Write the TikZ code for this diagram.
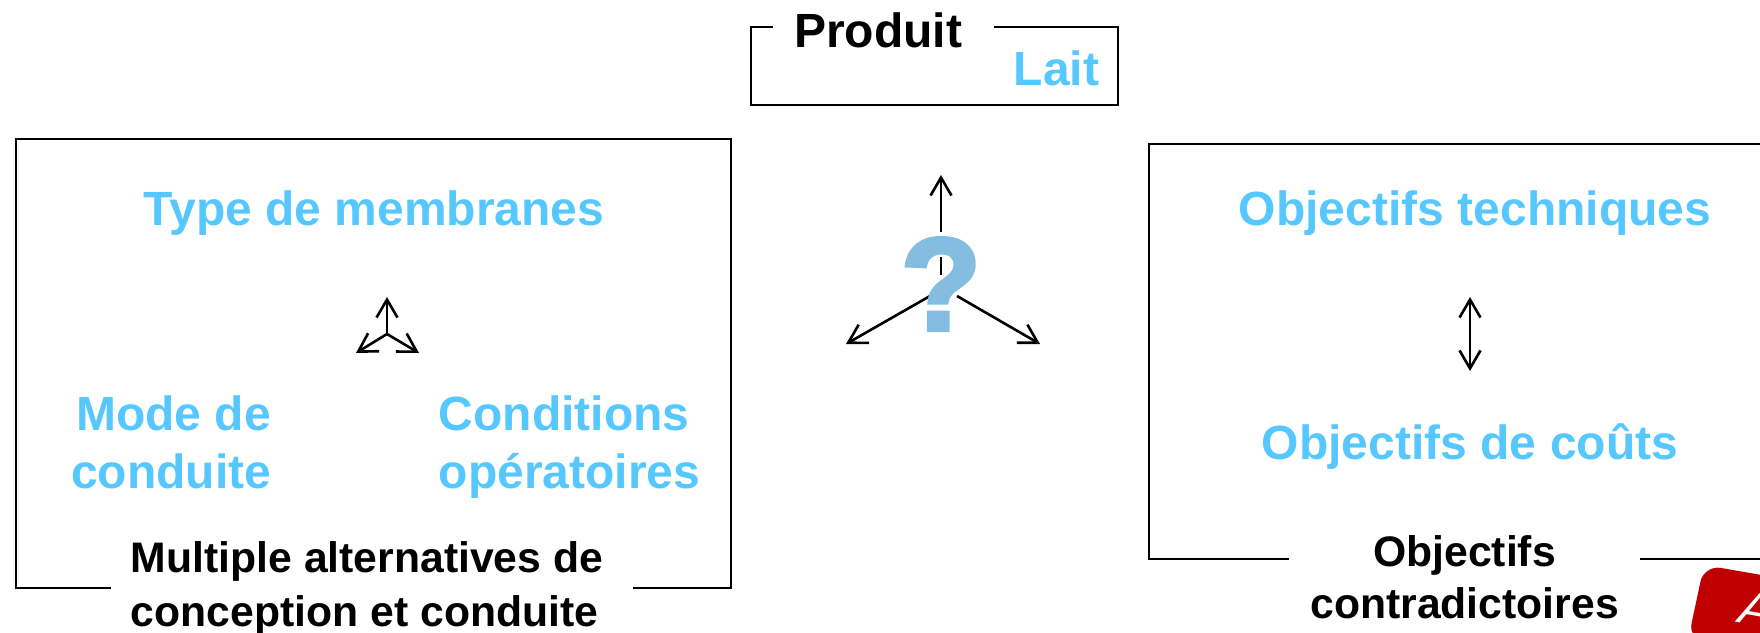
\documentclass[tikz,border=0pt]{standalone}
\usepackage{fontspec}
\setmainfont{Liberation Sans}
\newfontfamily\qfont[BoldFeatures={FakeBold=3}]{Liberation Sans}
\usetikzlibrary{arrows.meta}
\definecolor{skyt}{HTML}{57C7FF}
\definecolor{qblue}{HTML}{85BDE0}
\definecolor{tagred}{HTML}{C00000}
\tikzset{
  frame/.style={draw=black,line width=2pt,line join=miter},
  conn/.style={draw=black,line width=2.6pt},
  barb/.tip={Straight Barb[length=18pt,width=21pt,line width=2.6pt]},
  arrowed/.style={conn,-barb},
  bluetext/.style={text=skyt,font=\fontsize{48}{58}\selectfont\bfseries,align=center,inner sep=0pt},
  blacktext/.style={text=black,font=\fontsize{42.7}{52}\selectfont\bfseries,align=center,inner sep=0pt},
}
\begin{document}
\begin{tikzpicture}[x=1pt,y=-1pt]
\useasboundingbox (0,0) rectangle (1760,632);
\clip (0,0) rectangle (1760,632);
% frames
\draw[frame] (773,27) -- (751,27) -- (751,105) -- (1118,105) -- (1118,27) -- (994,27);
\draw[frame] (111,588) -- (16,588) -- (16,139) -- (731,139) -- (731,588) -- (633,588);
\draw[frame] (1289,559) -- (1149,559) -- (1149,144) -- (1762,144);
\draw[frame] (1640,559) -- (1762,559);
% labels
\node[text=black,font=\fontsize{48}{57}\selectfont\bfseries,inner sep=0pt] (produit) at (878,30) {Produit};
\node[bluetext] (lait) at (1056.5,68) {Lait};
\node[bluetext] (type) at (374,213.5) {Type de membranes};
\node[bluetext,align=right] (mode) at (171,442.5) {Mode de\\conduite};
\node[bluetext,align=left] (cond) at (569.5,447.5) {Conditions\\opératoires};
\node[bluetext] (otech) at (1475,213.5) {Objectifs techniques};
\node[bluetext] (ocout) at (1470,446.5) {Objectifs de coûts};
\node[blacktext,font=\fontsize{42.7}{54}\selectfont\bfseries,align=left] (mult) at (367,588) {Multiple alternatives de\\conception et conduite};
\node[blacktext] (ocon) at (1464.5,577) {Objectifs\\contradictoires};
% small tripod
\coordinate (sc) at (387,334);
\coordinate (st) at (387,297);
\coordinate (sl) at (356,353);
\coordinate (sr) at (419,353);
\draw[arrowed] (sc) -- (st);
\draw[arrowed] (sc) -- (sl);
\draw[arrowed] (sc) -- (sr);
% double arrow
\coordinate (dt) at (1470,297);
\coordinate (db) at (1470,371);
\draw[conn,barb-barb] (dt) -- (db);
% big tripod
\coordinate (bt0) at (941,232);
\coordinate (bt) at (941,175);
\coordinate (bm0) at (941,257);
\coordinate (bm1) at (941,275);
\coordinate (bl0) at (930,296);
\coordinate (bl) at (846,344);
\coordinate (br0) at (957,296);
\coordinate (br) at (1040,344);
\draw[arrowed] (bt0) -- (bt);
\draw[conn] (bm0) -- (bm1);
\draw[arrowed] (bl0) -- (bl);
\draw[arrowed] (br0) -- (br);
\node[text=qblue,font=\fontsize{132}{132}\selectfont\qfont\bfseries,inner sep=0pt] (qm) at (941,284) {?};
% red tag
\fill[tagred,rounded corners=17pt] (1688,640) -- (1704,565) -- (1796,581) -- (1796,640) -- cycle;
\node[text=white,font=\fontsize{47}{47}\selectfont\itshape,inner sep=0pt,rotate=-10,anchor=base west] (atag) at (1737,622) {A};
\end{tikzpicture}
\end{document}
